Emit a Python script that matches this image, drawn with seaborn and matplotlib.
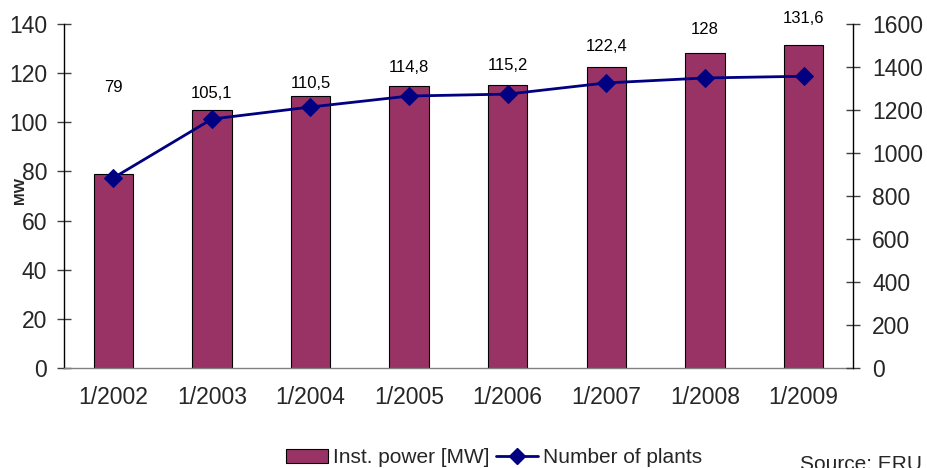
import matplotlib
matplotlib.use("Agg")
import matplotlib.pyplot as plt
import matplotlib.lines as mlines
import matplotlib.patches as mpatches
import numpy as np
import pandas as pd
import seaborn as sns

# Data
periods = ["1/2002", "1/2003", "1/2004", "1/2005", "1/2006", "1/2007", "1/2008", "1/2009"]
inst_power_mw = [79, 105.1, 110.5, 114.8, 115.2, 122.4, 128, 131.6]
number_of_plants = [884, 1158, 1214, 1265, 1274, 1326, 1349, 1357]
power_labels = ["79", "105,1", "110,5", "114,8", "115,2", "122,4", "128", "131,6"]

# Vertical offset (points) of each value label above its bar
label_offsets = [62, 12, 9, 13, 14, 15, 17, 19]

sns.set_theme(style="white")
plt.rcParams["font.family"] = ["Liberation Sans", "DejaVu Sans"]

df = pd.DataFrame({"period": periods, "power": inst_power_mw, "plants": number_of_plants})

fig = plt.figure(figsize=(9.27, 4.68), dpi=100)
ax = fig.add_axes([0.069, 0.2137, 0.851, 0.735])

bar_color = "#993366"
line_color = "#000080"

sns.barplot(data=df, x="period", y="power", ax=ax, color=bar_color,
            saturation=1, width=0.4, edgecolor="black", linewidth=0.8)

ax.set_ylim(0, 140)
ax.set_xlim(-0.5, len(periods) - 0.5)
ax.set_yticks(np.arange(0, 141, 20))
ax.set_xlabel("")
ax.set_ylabel("MW", fontsize=11, fontweight="bold")
ax.yaxis.set_label_coords(-0.047, 0.517)
ax.tick_params(axis="y", direction="inout", length=10, width=1, color="#404040",
               labelsize=16.5, pad=7, left=True)
ax.tick_params(axis="x", length=0, labelsize=16.5, pad=13)
for side in ["top", "right"]:
    ax.spines[side].set_visible(False)
ax.spines["left"].set_color("black")
ax.spines["left"].set_linewidth(1)
ax.spines["bottom"].set_color("#808080")
ax.spines["bottom"].set_linewidth(1)

for i, (v, lab) in enumerate(zip(inst_power_mw, power_labels)):
    ax.annotate(lab, xy=(i, v), xytext=(0, label_offsets[i]), textcoords="offset points",
                ha="center", va="center", fontsize=12, color="black")

ax2 = ax.twinx()
x_idx = np.arange(len(periods))
sns.lineplot(x=x_idx, y=number_of_plants, ax=ax2, color=line_color, linewidth=2,
             marker="D", markersize=9, markeredgecolor=line_color, markerfacecolor=line_color)
ax2.set_ylim(0, 1600)
ax2.set_yticks(np.arange(0, 1601, 200))
ax2.set_ylabel("")
ax2.tick_params(axis="y", direction="inout", length=10, width=1, color="#404040",
                labelsize=16.5, pad=9, right=True)
for side in ["top", "left", "bottom"]:
    ax2.spines[side].set_visible(False)
ax2.spines["right"].set_color("black")
ax2.spines["right"].set_linewidth(1)

handles = [
    mpatches.Patch(facecolor=bar_color, edgecolor="black", linewidth=0.8, label="Inst. power [MW]"),
    mlines.Line2D([], [], color=line_color, linewidth=2, marker="D", markersize=8,
                  label="Number of plants"),
]
fig.legend(handles=handles, loc="center", bbox_to_anchor=(0.533, 0.022), ncol=2,
           frameon=False, fontsize=15, handlelength=2.0, handletextpad=0.25,
           columnspacing=0.3, borderaxespad=0)

fig.text(0.863, 0.028, "Source: ERU", ha="left", va="top", fontsize=15)

fig.savefig("out.png", dpi=100)
